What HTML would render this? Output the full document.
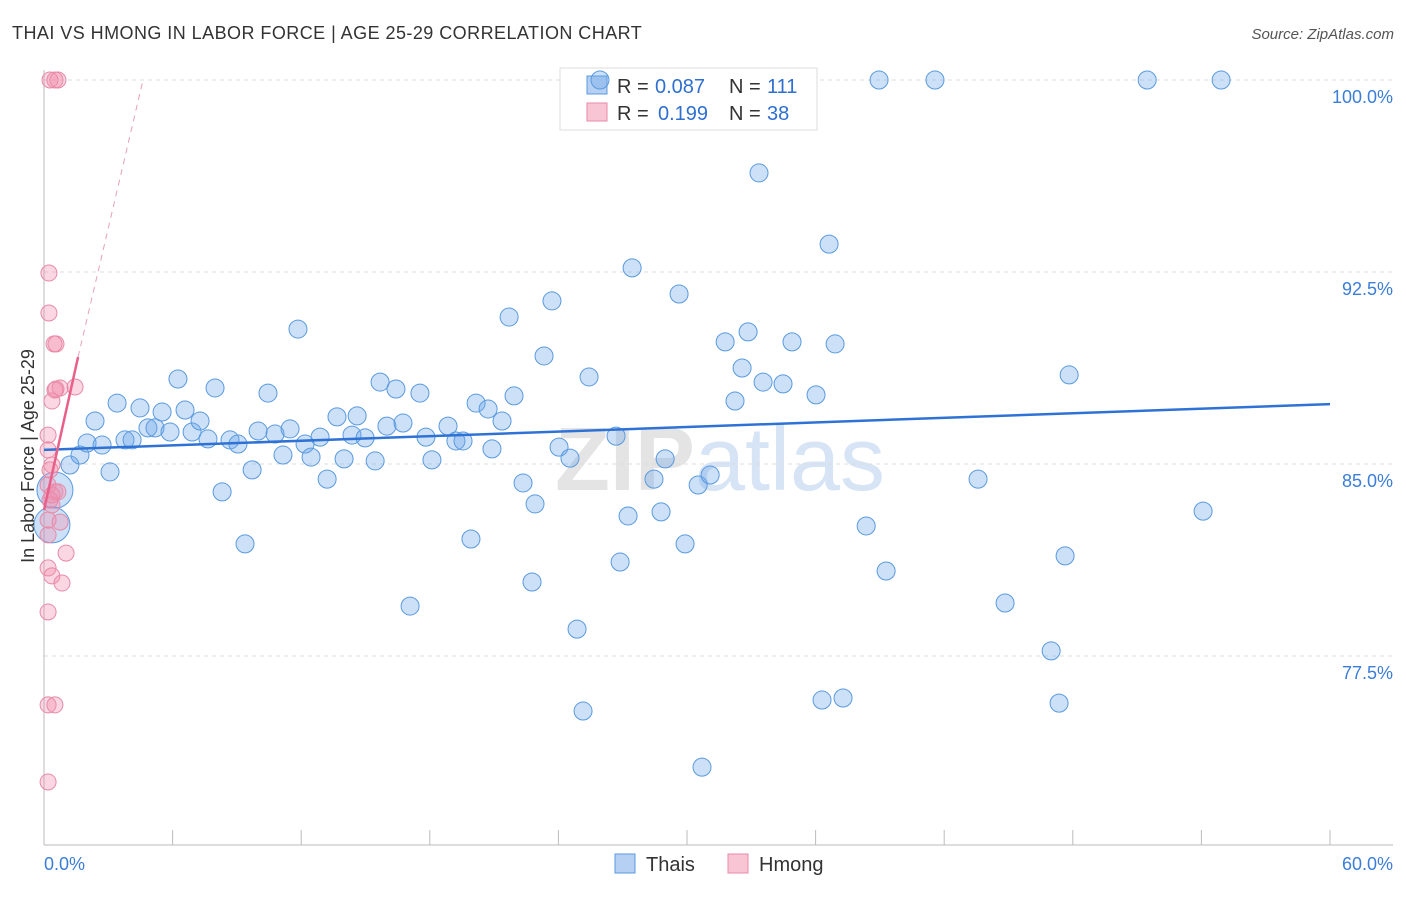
<!DOCTYPE html>
<html><head><meta charset="utf-8">
<style>
body{margin:0;background:#fff;font-family:"Liberation Sans",sans-serif;}
svg text{font-family:"Liberation Sans",sans-serif;}
</style></head>
<body>
<svg id="chart" width="1406" height="892" xmlns="http://www.w3.org/2000/svg">
<text x="12" y="39" font-size="18" letter-spacing="0.45" fill="#333">THAI VS HMONG IN LABOR FORCE | AGE 25-29 CORRELATION CHART</text>
<text x="1394" y="39" font-size="15" fill="#555" text-anchor="end" font-style="italic">Source: ZipAtlas.com</text>
<text x="720" y="490" font-size="90" fill="#e4e4e4" text-anchor="middle" font-weight="bold">ZIP<tspan fill="#d6e4f5" font-weight="normal">atlas</tspan></text>
<g id="grid"></g>
<g id="axes"></g>
<g>
<rect x="560" y="68" width="257" height="62" fill="#fff" stroke="#ddd"/>
<rect x="587" y="76" width="20" height="18" fill="#b5d0f2" stroke="#5a9ae0"/>
<text x="617" y="93" font-size="20" fill="#333">R =</text>
<text x="655" y="93" font-size="20" fill="#2f6fd0">0.087</text>
<text x="729" y="93" font-size="20" fill="#333">N =</text>
<text x="767" y="93" font-size="20" fill="#2f6fd0">111</text>
<rect x="587" y="103" width="20" height="18" fill="#f8c5d4" stroke="#e88aa8"/>
<text x="617" y="120" font-size="20" fill="#333">R =</text>
<text x="658" y="120" font-size="20" fill="#2f6fd0">0.199</text>
<text x="729" y="120" font-size="20" fill="#333">N =</text>
<text x="767" y="120" font-size="20" fill="#2f6fd0">38</text>
</g>
<g id="pts"></g>
<g id="trend"></g>
<text transform="translate(34,456) rotate(-90)" font-size="18" fill="#333" text-anchor="middle">In Labor Force | Age 25-29</text>
<g>
<rect x="615" y="854" width="20" height="19" fill="#b5d0f2" stroke="#5a9ae0"/>
<text x="646" y="871" font-size="20" fill="#333">Thais</text>
<rect x="728" y="854" width="20" height="19" fill="#f8c5d4" stroke="#e88aa8"/>
<text x="759" y="871" font-size="20" fill="#333">Hmong</text>
</g>
</svg>
<script>
const thaiX=[0.51,0.37,1.21,1.68,2.01,2.38,2.71,3.08,3.41,3.78,4.11,4.48,4.85,5.18,5.51,5.88,6.25,6.58,6.91,7.28,7.65,7.98,8.31,8.68,9.05,9.38,9.71,9.99,10.45,10.78,11.15,11.48,11.85,12.18,12.46,12.88,13.21,13.67,14.0,14.37,14.61,14.98,15.45,15.68,16.0,16.42,16.75,17.08,17.54,17.82,18.1,18.85,19.22,19.55,19.92,20.16,20.72,20.9,21.37,21.7,21.93,22.35,22.91,22.77,23.33,23.7,24.03,24.54,24.87,25.15,25.43,26.69,26.88,27.25,27.44,28.46,28.79,28.98,29.63,29.91,30.52,30.7,31.08,31.78,32.24,32.57,32.85,33.36,33.55,34.48,34.9,36.02,36.3,36.63,36.91,37.28,38.36,39.29,38.96,41.57,43.58,44.84,46.99,47.36,47.64,47.83,51.47,54.08,54.92,25.94];
const thaiY=[83.98,82.62,84.96,85.35,85.82,86.68,85.74,84.69,87.38,85.94,85.94,87.19,86.41,86.41,87.03,86.25,88.32,87.11,86.25,86.68,85.98,87.97,83.91,85.94,85.78,81.88,84.77,86.29,87.77,86.17,85.35,86.37,90.27,85.78,85.27,86.05,84.41,86.84,85.2,86.13,86.88,86.02,85.12,88.2,86.48,87.93,86.6,79.45,87.77,86.05,85.16,86.48,85.9,85.9,82.07,87.38,87.15,85.59,86.68,90.74,87.66,84.26,83.44,80.39,89.22,91.37,85.66,85.23,78.55,75.35,88.4,86.09,81.17,82.97,92.66,84.41,83.13,85.2,91.64,81.88,84.18,73.16,84.57,89.77,87.46,88.75,90.16,96.37,88.2,88.13,89.77,87.7,75.78,93.59,89.69,75.86,82.58,80.82,100,100,84.41,79.57,77.7,75.66,81.41,88.48,100,83.16,100,100];
const hmongX=[0.28,0.51,0.65,0.23,0.23,0.47,0.56,0.56,0.75,1.45,0.37,0.19,0.19,0.37,0.19,0.51,0.65,0.37,0.19,0.75,0.19,1.03,0.19,0.37,0.84,0.19,0.19,0.51,0.19,0.28,0.28,0.37,0.51];
const hmongY=[100,100,100,92.46,90.9,89.69,89.69,87.93,87.97,88.01,87.46,86.13,85.55,84.96,84.18,83.91,83.91,83.4,82.81,82.73,82.23,81.52,80.94,80.63,80.35,79.22,75.59,75.59,72.58,84.77,83.59,83.79,87.89];
const yTicks=[100,92.5,85,77.5];
const yTickLabels=["100.0%","92.5%","85.0%","77.5%"];
const thaiTrend=[[0,85.55],[60,87.34]];
const hmongTrend=[[0,83.2],[1.59,89.18]];
const hmongDash=[[1.59,89.18],[4.62,100]];
const X=v=>44+v/60*1286, Y=v=>80+(100-v)/7.5*192;
const NS="http://www.w3.org/2000/svg";
function mk(t,a,p){const e=document.createElementNS(NS,t);for(const k in a)e.setAttribute(k,a[k]);p.appendChild(e);return e;}
const grid=document.getElementById('grid'),axes=document.getElementById('axes'),pts=document.getElementById('pts'),tr=document.getElementById('trend');
yTicks.forEach((t,i)=>{
 const l=mk('line',{x1:44,x2:1393,y1:Y(t),y2:Y(t),stroke:'#ddd','stroke-dasharray':'4,4'},grid);
 
 
 const tx=mk('text',{x:1393,y:Y(t)+23,'font-size':18,fill:'#3b7dd8','text-anchor':'end'},axes);
 tx.textContent=yTickLabels[i];
 
 
});
const ax=mk('line',{x1:44,x2:1393,y1:845,y2:845,stroke:'#bbb'},axes);


const ay=mk('line',{x1:44,x2:44,y1:70,y2:845,stroke:'#bbb'},axes);


for(let v=6;v<=60;v+=6){const t=mk('line',{x1:X(v),x2:X(v),y1:830,y2:845,stroke:'#bbb'},axes);
 
 }
[[0,"0.0%",'start',44],[60,"60.0%",'end',1393]].forEach(d=>{const t=mk('text',{x:d[3],y:870,'font-size':18,fill:'#3b7dd8','text-anchor':d[2]},axes);t.textContent=d[1];
 
 });
thaiX.forEach((x,i)=>{const r=i<2?18:9;
 const c=mk('circle',{cx:X(x),cy:Y(thaiY[i]),r:r,fill:'rgba(110,165,232,0.35)',stroke:'#5a9ae0','stroke-width':1},pts);
 
 });
hmongX.forEach((x,i)=>{
 const c=mk('circle',{cx:X(x),cy:Y(hmongY[i]),r:8,fill:'rgba(242,140,172,0.35)',stroke:'#e88aa8','stroke-width':1},pts);
 
 });
const l1=mk('line',{x1:X(thaiTrend[0][0]),y1:Y(thaiTrend[0][1]),x2:X(thaiTrend[1][0]),y2:Y(thaiTrend[1][1]),stroke:'#2f72d6','stroke-width':2.5},tr);


const l2=mk('line',{x1:X(hmongTrend[0][0]),y1:Y(hmongTrend[0][1]),x2:X(hmongTrend[1][0]),y2:Y(hmongTrend[1][1]),stroke:'#e8608a','stroke-width':2.5},tr);


const l3=mk('line',{x1:X(hmongDash[0][0]),y1:Y(hmongDash[0][1]),x2:X(hmongDash[1][0]),y2:Y(hmongDash[1][1]),stroke:'#e8a0b8','stroke-width':1,'stroke-dasharray':'6,5'},tr);


</script>
</body></html>
